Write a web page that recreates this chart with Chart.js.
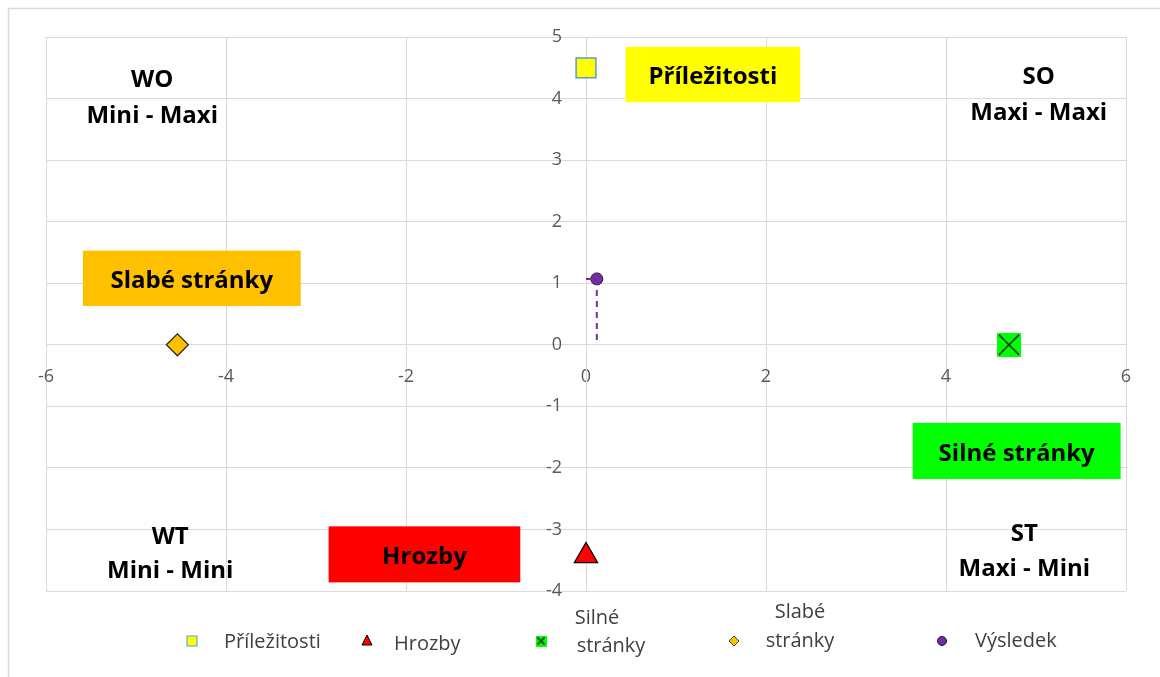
<!DOCTYPE html>
<html>
<head>
<meta charset="utf-8">
<script src="https://cdn.jsdelivr.net/npm/chart.js@4.4.1/dist/chart.umd.min.js"></script>
<style>
  html, body { margin: 0; padding: 0; background: #ffffff; }
  #wrap { width: 1160px; height: 677px; position: relative; }
</style>
</head>
<body>
<div id="wrap"><canvas id="c" width="1160" height="677"></canvas></div>
<script>
// ---- data ----
const seriesNames = ['Příležitosti', 'Hrozby', 'Silné stránky', 'Slabé stránky', 'Výsledek'];
const prilezitosti = [{ x: 0, y: 4.5 }];
const hrozby = [{ x: 0, y: -3.43 }];
const silne = [{ x: 4.7, y: 0 }];
const slabe = [{ x: -4.54, y: 0 }];
const vysledek = [{ x: 0.12, y: 1.07 }];
const xTicks = [-6, -4, -2, 0, 2, 4, 6];
const yTicks = [-4, -3, -2, -1, 0, 1, 2, 3, 4, 5];

// dashed guide for result (from axes to point)
const vysledekGuide = [
  { x: 0, y: vysledek[0].y },
  { x: vysledek[0].x, y: vysledek[0].y },
  { x: vysledek[0].x, y: 0 }
];

// custom point style for "Silné stránky" (green square with X)
function makeXSquare(size) {
  const cv = document.createElement('canvas');
  cv.width = size; cv.height = size;
  const g = cv.getContext('2d');
  g.fillStyle = '#00FF00';
  g.fillRect(0, 0, size, size);
  g.strokeStyle = '#1a1a1a';
  g.lineWidth = 1.5;
  g.beginPath();
  g.moveTo(2, 2); g.lineTo(size - 2, size - 2);
  g.moveTo(size - 2, 2); g.lineTo(2, size - 2);
  g.stroke();
  return cv;
}
const xSquareBig = makeXSquare(24);
const xSquareSmall = makeXSquare(11);

const FONT = '"Open Sans", "DejaVu Sans", sans-serif';
const BOLD = 'bold 24px "Open Sans", "DejaVu Sans", sans-serif';

// quadrant / category annotations (data coordinates)
const annotationPlugin = {
  id: 'annot',
  beforeDatasetsDraw(chart) {
    const { ctx, scales: { x, y } } = chart;
    const boxes = [
      { x1: 0.44, x2: 2.38, y1: 4.84, y2: 3.94, color: '#FFFF00', text: 'Příležitosti' },
      { x1: -5.59, x2: -3.17, y1: 1.53, y2: 0.63, color: '#FFC000', text: 'Slabé stránky' },
      { x1: 3.63, x2: 5.94, y1: -1.27, y2: -2.18, color: '#00FF00', text: 'Silné stránky' },
      { x1: -2.86, x2: -0.73, y1: -2.95, y2: -3.86, color: '#FF0000', text: 'Hrozby' }
    ];
    ctx.save();
    boxes.forEach(b => {
      const px1 = x.getPixelForValue(b.x1), px2 = x.getPixelForValue(b.x2);
      const py1 = y.getPixelForValue(b.y1), py2 = y.getPixelForValue(b.y2);
      ctx.fillStyle = b.color;
      ctx.fillRect(px1, py1, px2 - px1, py2 - py1);
      ctx.fillStyle = '#000000';
      ctx.font = BOLD;
      ctx.textAlign = 'center';
      ctx.textBaseline = 'middle';
      ctx.fillText(b.text, (px1 + px2) / 2, (py1 + py2) / 2 + 3);
    });
    const labels = [
      { x: -4.82, y: 4.30, t: 'WO' }, { x: -4.82, y: 3.71, t: 'Mini - Maxi' },
      { x: 5.03, y: 4.35, t: 'SO' }, { x: 5.03, y: 3.76, t: 'Maxi - Maxi' },
      { x: -4.62, y: -3.12, t: 'WT' }, { x: -4.62, y: -3.68, t: 'Mini - Mini' },
      { x: 4.87, y: -3.07, t: 'ST' }, { x: 4.87, y: -3.65, t: 'Maxi - Mini' }
    ];
    ctx.fillStyle = '#000000';
    ctx.font = BOLD;
    ctx.textAlign = 'center';
    ctx.textBaseline = 'middle';
    labels.forEach(l => ctx.fillText(l.t, x.getPixelForValue(l.x), y.getPixelForValue(l.y)));

    // y tick labels, placed left of the crossing axis
    const axisX = x.getPixelForValue(0);
    ctx.fillStyle = '#595959';
    ctx.font = '18px ' + FONT;
    ctx.textAlign = 'right';
    ctx.textBaseline = 'middle';
    yTicks.forEach(v => ctx.fillText(String(v), axisX - 24, y.getPixelForValue(v)));
    ctx.restore();
  },
  afterDraw(chart) {
    const { ctx } = chart;
    ctx.save();
    ctx.strokeStyle = '#d9d9d9';
    ctx.lineWidth = 1.5;
    ctx.beginPath();
    ctx.moveTo(8.5, 677); ctx.lineTo(8.5, 8.5); ctx.lineTo(1160, 8.5);
    ctx.stroke();
    ctx.restore();
  }
};

// custom legend (multi-line labels)
const legendPlugin = {
  id: 'customLegend',
  afterDraw(chart) {
    const { ctx } = chart;
    const my = 641;
    const items = [
      { mx: 192, ds: 0, lines: [[seriesNames[0], 224, my + 1, 'left']] },
      { mx: 367, ds: 1, lines: [[seriesNames[1], 394, my + 3, 'left']] },
      { mx: 541, ds: 2, lines: [[seriesNames[2].split(' ')[0], 597, my - 23, 'center'], [seriesNames[2].split(' ')[1], 611, my + 5, 'center']] },
      { mx: 734, ds: 3, lines: [[seriesNames[3].split(' ')[0], 800, my - 29, 'center'], [seriesNames[3].split(' ')[1], 800, my, 'center']] },
      { mx: 942, ds: 4, lines: [[seriesNames[4], 975, my, 'left']] }
    ];
    ctx.save();
    items.forEach(it => {
      const i = it.ds;
      ctx.lineWidth = 1;
      if (i === 0) {
        ctx.fillStyle = '#FFFF00'; ctx.strokeStyle = '#5B9BD5';
        ctx.fillRect(it.mx - 5, my - 5, 10, 10);
        ctx.strokeRect(it.mx - 5, my - 5, 10, 10);
      } else if (i === 1) {
        ctx.fillStyle = '#FF0000'; ctx.strokeStyle = '#000000';
        ctx.beginPath();
        ctx.moveTo(it.mx, my - 6); ctx.lineTo(it.mx + 5, my + 4); ctx.lineTo(it.mx - 5, my + 4); ctx.closePath();
        ctx.fill(); ctx.stroke();
      } else if (i === 2) {
        ctx.drawImage(xSquareSmall, it.mx - 5.5, my - 5.5);
      } else if (i === 3) {
        ctx.fillStyle = '#FFC000'; ctx.strokeStyle = '#404040';
        ctx.beginPath();
        ctx.moveTo(it.mx, my - 5); ctx.lineTo(it.mx + 5, my); ctx.lineTo(it.mx, my + 5); ctx.lineTo(it.mx - 5, my); ctx.closePath();
        ctx.fill(); ctx.stroke();
      } else {
        ctx.fillStyle = '#7030A0'; ctx.strokeStyle = '#2a1040';
        ctx.beginPath(); ctx.arc(it.mx, my, 4.5, 0, Math.PI * 2); ctx.fill(); ctx.stroke();
      }
      ctx.fillStyle = '#404040';
      ctx.font = '20px ' + FONT;
      ctx.textBaseline = 'middle';
      it.lines.forEach(([t, tx, ty, al]) => {
        ctx.textAlign = al;
        ctx.fillText(t, tx, ty);
      });
    });
    ctx.restore();
  }
};

new Chart(document.getElementById('c'), {
  type: 'scatter',
  data: {
    datasets: [
      {
        label: seriesNames[0], data: prilezitosti, pointStyle: 'rect', radius: 14,
        backgroundColor: '#FFFF00', borderColor: '#5B9BD5', borderWidth: 1.5
      },
      {
        label: seriesNames[1], data: hrozby, pointStyle: 'triangle', radius: 13.5,
        backgroundColor: '#FF0000', borderColor: '#000000', borderWidth: 1.2
      },
      {
        label: seriesNames[2], data: silne, pointStyle: xSquareBig, radius: 12
      },
      {
        label: seriesNames[3], data: slabe, pointStyle: 'rectRot', radius: 11,
        backgroundColor: '#FFC000', borderColor: '#262626', borderWidth: 1.2
      },
      {
        label: 'guide', data: vysledekGuide, showLine: true, pointRadius: 0,
        borderColor: '#7030A0', borderWidth: 2, borderDash: [6, 5], fill: false
      },
      {
        label: seriesNames[4], data: vysledek, pointStyle: 'circle', radius: 6,
        backgroundColor: '#7030A0', borderColor: '#2a1040', borderWidth: 1
      }
    ]
  },
  options: {
    responsive: false,
    animation: false,
    layout: { padding: { left: 46, top: 37, right: 34, bottom: 86 } },
    plugins: { legend: { display: false }, tooltip: { enabled: false } },
    elements: { point: { hoverRadius: 0 } },
    scales: {
      x: {
        type: 'linear', min: -6, max: 6,
        position: { y: 0 },
        afterBuildTicks: (s) => { s.ticks = xTicks.map(v => ({ value: v })); },
        grid: { color: '#d9d9d9', lineWidth: 1, drawTicks: false },
        border: { color: '#d9d9d9', width: 1 },
        ticks: { color: '#595959', font: { family: FONT, size: 18 }, padding: 21, maxRotation: 0, autoSkip: false }
      },
      y: {
        type: 'linear', min: -4, max: 5,
        position: { x: 0 },
        afterBuildTicks: (s) => { s.ticks = yTicks.map(v => ({ value: v })); },
        grid: { color: '#d9d9d9', lineWidth: 1, drawTicks: false },
        border: { color: '#d9d9d9', width: 1 },
        ticks: { display: false }
      }
    }
  },
  plugins: [annotationPlugin, legendPlugin]
});
</script>
</body>
</html>
